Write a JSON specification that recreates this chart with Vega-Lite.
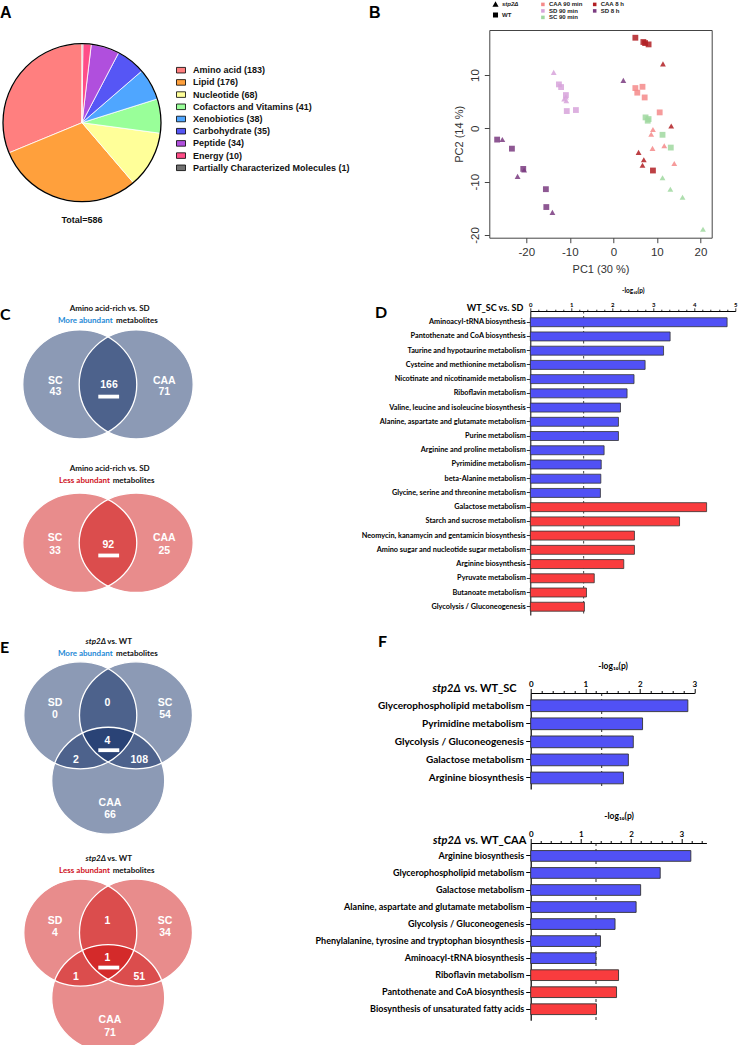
{
  "$schema": "https://vega.github.io/schema/vega-lite/v6.json",
  "background": "white",
  "padding": 0,
  "bounds": "flush",
  "spacing": 0,
  "config": {"view": {"stroke": null}, "font": "Liberation Sans", "axis": {"grid": false}},
  "resolve": {"scale": {"color": "independent", "shape": "independent"}, "legend": {"color": "independent", "shape": "independent"}},
  "vconcat": [
    {
      "hconcat": [
        {
          "width": 158,
          "height": 185.4,
          "title": {"text": "A", "anchor": "start", "frame": "group", "offset": 0, "baseline": "alphabetic", "dx": -3, "dy": 4.4, "font": "Liberation Sans", "fontSize": 16, "fontWeight": "bold", "color": "black"},
          "data": {"values": [
            {"cat": "Amino acid (183)", "n": 183, "i": 1},
            {"cat": "Lipid (176)", "n": 176, "i": 2},
            {"cat": "Nucleotide (68)", "n": 68, "i": 3},
            {"cat": "Cofactors and Vitamins (41)", "n": 41, "i": 4},
            {"cat": "Xenobiotics (38)", "n": 38, "i": 5},
            {"cat": "Carbohydrate (35)", "n": 35, "i": 6},
            {"cat": "Peptide (34)", "n": 34, "i": 7},
            {"cat": "Energy (10)", "n": 10, "i": 8},
            {"cat": "Partially Characterized Molecules (1)", "n": 1, "i": 9}
          ]},
          "layer": [
            {
              "mark": {"type": "arc", "outerRadius": 79, "stroke": "white", "strokeWidth": 0.8},
              "encoding": {
                "theta": {"field": "n", "type": "quantitative", "stack": true},
                "order": {"field": "i", "type": "quantitative", "sort": "descending"},
                "color": {
                  "field": "cat", "type": "nominal",
                  "scale": {
                    "domain": ["Amino acid (183)", "Lipid (176)", "Nucleotide (68)", "Cofactors and Vitamins (41)", "Xenobiotics (38)", "Carbohydrate (35)", "Peptide (34)", "Energy (10)", "Partially Characterized Molecules (1)"],
                    "range": ["#FF7F7F", "#FFA03C", "#FFFF99", "#99FF99", "#4FA6FF", "#5656F5", "#B04FDD", "#FF4D88", "#707070"]
                  },
                  "legend": {"orient": "none", "legendX": 173, "legendY": 35.2, "title": null, "padding": 0, "labelFont": "Liberation Sans", "labelFontSize": 9, "labelFontWeight": "bold", "labelColor": "#111", "labelLimit": 400, "symbolType": "M-1,-0.62H1V0.62H-1Z", "symbolSize": 81, "symbolStrokeColor": "black", "symbolStrokeWidth": 0.8, "symbolOpacity": 1, "rowPadding": 2.2, "labelOffset": 7}
                }
              }
            },
            {
              "data": {"values": [{"ring": "outline"}]},
              "mark": {"type": "arc", "outerRadius": 79, "theta": 0, "theta2": 6.2832, "fill": "white", "fillOpacity": 0, "stroke": "black", "strokeWidth": 1.3},
              "encoding": {}
            },
            {
              "data": {"values": [{"label": "Total=586"}]},
              "mark": {"type": "text", "radius": 97, "theta": 3.14159, "font": "Liberation Sans", "fontSize": 9, "fontWeight": "bold", "color": "#111", "baseline": "middle", "align": "center"},
              "encoding": {"text": {"field": "label", "type": "nominal"}}
            }
          ]
        },
        {
          "width": 222.4,
          "height": 207.7,
          "view": {"stroke": "#444", "strokeWidth": 1},
          "title": {"text": "B", "anchor": "start", "frame": "group", "offset": 0, "baseline": "alphabetic", "dx": -120.3, "dy": 33, "font": "Liberation Sans", "fontSize": 16, "fontWeight": "bold", "color": "black"},
          "data": {"values": [
            {"PC1": 5.06, "PC2": 17.0, "cond": "CAA 8 h", "strain": "WT"},
            {"PC1": 6.9, "PC2": 16.2, "cond": "CAA 8 h", "strain": "WT"},
            {"PC1": 7.3, "PC2": 16.0, "cond": "CAA 8 h", "strain": "WT"},
            {"PC1": 8.1, "PC2": 15.75, "cond": "CAA 8 h", "strain": "WT"},
            {"PC1": 9.1, "PC2": -7.9, "cond": "CAA 8 h", "strain": "WT"},
            {"PC1": 11.4, "PC2": 12.1, "cond": "CAA 8 h", "strain": "stp2Δ"},
            {"PC1": 13.3, "PC2": 0.45, "cond": "CAA 8 h", "strain": "stp2Δ"},
            {"PC1": 5.8, "PC2": -4.5, "cond": "CAA 8 h", "strain": "stp2Δ"},
            {"PC1": 7.0, "PC2": -5.9, "cond": "CAA 8 h", "strain": "stp2Δ"},
            {"PC1": 6.7, "PC2": -6.9, "cond": "CAA 8 h", "strain": "stp2Δ"},
            {"PC1": 5.06, "PC2": 7.56, "cond": "CAA 90 min", "strain": "WT"},
            {"PC1": 5.5, "PC2": 6.7, "cond": "CAA 90 min", "strain": "WT"},
            {"PC1": 6.7, "PC2": 7.8, "cond": "CAA 90 min", "strain": "WT"},
            {"PC1": 7.2, "PC2": 5.8, "cond": "CAA 90 min", "strain": "WT"},
            {"PC1": 10.65, "PC2": 3.0, "cond": "CAA 90 min", "strain": "WT"},
            {"PC1": 9.1, "PC2": -0.2, "cond": "CAA 90 min", "strain": "stp2Δ"},
            {"PC1": 8.7, "PC2": -1.1, "cond": "CAA 90 min", "strain": "stp2Δ"},
            {"PC1": 9.0, "PC2": -3.75, "cond": "CAA 90 min", "strain": "stp2Δ"},
            {"PC1": 11.7, "PC2": -3.25, "cond": "CAA 90 min", "strain": "stp2Δ"},
            {"PC1": 14.0, "PC2": -6.6, "cond": "CAA 90 min", "strain": "stp2Δ"},
            {"PC1": 7.4, "PC2": 2.06, "cond": "SC 90 min", "strain": "WT"},
            {"PC1": 8.1, "PC2": 1.75, "cond": "SC 90 min", "strain": "WT"},
            {"PC1": 7.9, "PC2": 1.44, "cond": "SC 90 min", "strain": "WT"},
            {"PC1": 11.3, "PC2": -1.2, "cond": "SC 90 min", "strain": "WT"},
            {"PC1": 13.2, "PC2": -3.6, "cond": "SC 90 min", "strain": "WT"},
            {"PC1": 11.3, "PC2": -9.25, "cond": "SC 90 min", "strain": "stp2Δ"},
            {"PC1": 13.1, "PC2": -11.4, "cond": "SC 90 min", "strain": "stp2Δ"},
            {"PC1": 15.9, "PC2": -12.9, "cond": "SC 90 min", "strain": "stp2Δ"},
            {"PC1": 20.6, "PC2": -18.9, "cond": "SC 90 min", "strain": "stp2Δ"},
            {"PC1": -12.5, "PC2": 8.25, "cond": "SD 90 min", "strain": "WT"},
            {"PC1": -12.0, "PC2": 7.75, "cond": "SD 90 min", "strain": "WT"},
            {"PC1": -10.9, "PC2": 6.25, "cond": "SD 90 min", "strain": "WT"},
            {"PC1": -10.7, "PC2": 3.25, "cond": "SD 90 min", "strain": "WT"},
            {"PC1": -8.6, "PC2": 3.44, "cond": "SD 90 min", "strain": "WT"},
            {"PC1": -13.7, "PC2": 10.5, "cond": "SD 90 min", "strain": "stp2Δ"},
            {"PC1": -11.3, "PC2": 5.5, "cond": "SD 90 min", "strain": "stp2Δ"},
            {"PC1": -10.9, "PC2": 5.9, "cond": "SD 90 min", "strain": "stp2Δ"},
            {"PC1": -10.8, "PC2": 5.2, "cond": "SD 90 min", "strain": "stp2Δ"},
            {"PC1": -26.7, "PC2": -2.1, "cond": "SD 8 h", "strain": "WT"},
            {"PC1": -23.3, "PC2": -3.8, "cond": "SD 8 h", "strain": "WT"},
            {"PC1": -20.7, "PC2": -7.6, "cond": "SD 8 h", "strain": "WT"},
            {"PC1": -15.5, "PC2": -11.4, "cond": "SD 8 h", "strain": "WT"},
            {"PC1": -15.4, "PC2": -14.75, "cond": "SD 8 h", "strain": "WT"},
            {"PC1": -25.5, "PC2": -2.1, "cond": "SD 8 h", "strain": "stp2Δ"},
            {"PC1": -20.5, "PC2": -7.8, "cond": "SD 8 h", "strain": "stp2Δ"},
            {"PC1": -22.0, "PC2": -9.0, "cond": "SD 8 h", "strain": "stp2Δ"},
            {"PC1": -14.0, "PC2": -15.75, "cond": "SD 8 h", "strain": "stp2Δ"},
            {"PC1": 2.3, "PC2": 9.0, "cond": "SD 8 h", "strain": "stp2Δ"}
          ]},
          "mark": {"type": "point", "filled": true, "opacity": 0.85, "size": 34},
          "encoding": {
            "x": {"field": "PC1", "type": "quantitative", "scale": {"domain": [-28.5, 22.6], "nice": false, "zero": false},
              "axis": {"values": [-20, -10, 0, 10, 20], "labelExpr": "'' + datum.value", "domain": false, "tickSize": 5, "tickColor": "#444", "labelFont": "Liberation Sans", "labelFontSize": 11.5, "labelColor": "#333", "labelPadding": 4, "title": "PC1 (30 %)", "titleFont": "Liberation Sans", "titleFontSize": 11, "titleFontWeight": "normal", "titleColor": "#333", "titlePadding": 5}},
            "y": {"field": "PC2", "type": "quantitative", "scale": {"domain": [-20.5, 18.45], "nice": false, "zero": false},
              "axis": {"values": [-20, -10, 0, 10], "labelExpr": "'' + datum.value", "domain": false, "tickSize": 5, "tickColor": "#444", "labelAngle": -90, "labelAlign": "center", "labelBaseline": "bottom", "labelFont": "Liberation Sans", "labelFontSize": 11.5, "labelColor": "#333", "labelPadding": 4, "title": "PC2 (14 %)", "titleFont": "Liberation Sans", "titleFontSize": 11, "titleFontWeight": "normal", "titleColor": "#333", "titlePadding": 5}},
            "color": {"field": "cond", "type": "nominal",
              "scale": {"domain": ["CAA 90 min", "SD 90 min", "SC 90 min", "CAA 8 h", "SD 8 h"], "range": ["#F58A8A", "#D7A3DA", "#A0D8A0", "#B21E23", "#7A3B80"]},
              "legend": {"orient": "none", "legendX": 50.6, "legendY": -28.6, "title": null, "padding": 0, "columns": 2, "columnPadding": 8.8, "rowPadding": 0.5, "symbolType": "square", "symbolSize": 12.5, "symbolOpacity": 1, "labelOffset": 3, "labelFont": "Liberation Sans", "labelFontSize": 6, "labelFontWeight": "bold", "labelColor": "#222"}},
            "shape": {"field": "strain", "type": "nominal",
              "scale": {"domain": ["stp2Δ", "WT"], "range": ["triangle-up", "square"]},
              "legend": {"orient": "none", "legendX": 3.2, "legendY": -28.6, "title": null, "padding": 0, "rowPadding": 0.5, "symbolSize": 12.5, "symbolFillColor": "black", "symbolStrokeColor": "black", "symbolOpacity": 1, "labelOffset": 3.5, "labelFont": "Liberation Sans", "labelFontSize": 6, "labelFontWeight": "bold", "labelColor": "#222",
                "encode": {"labels": {"update": {"fontStyle": {"signal": "datum.value === 'stp2Δ' ? 'italic' : 'normal'"}}}}}}
          }
        }
      ],
      "spacing": 328.3,
      "bounds": "flush",
      "resolve": {"scale": {"color": "independent", "shape": "independent"}, "legend": {"color": "independent", "shape": "independent"}}
    },
    {
      "width": 1,
      "height": 281,
      "data": {"values": []},
      "mark": "rect"
    },
    {
      "hconcat": [
        {
          "width": 200,
          "height": 300,
          "title": {"text": "C", "anchor": "start", "frame": "group", "offset": 0, "baseline": "alphabetic", "dx": -3, "dy": 31.5, "font": "Lato", "fontSize": 16, "fontWeight": "bold", "color": "black"},
          "encoding": {
            "x": {"field": "u", "type": "quantitative", "scale": {"domain": [-1.842, 1.667], "nice": false, "zero": false}, "axis": null},
            "y": {"field": "v", "type": "quantitative", "scale": {"domain": [-3.979, 1.2895], "nice": false, "zero": false}, "axis": null}
          },
          "layer": [
            {
              "data": {"values": [{"set": "SC", "u": -0.495, "v": 0}, {"set": "CAA", "u": 0.495, "v": 0}]},
              "mark": {"type": "point", "shape": "M -1 0 A 1 0.956 0 1 1 1 0 A 1 0.956 0 1 1 -1 0 Z", "size": 12996, "filled": true, "color": "#001F5B", "opacity": 1, "fillOpacity": 0.45, "strokeOpacity": 0}
            },
            {
              "data": {"values": [{"set": "SC", "u": -0.495, "v": -2.781}, {"set": "CAA", "u": 0.495, "v": -2.781}]},
              "mark": {"type": "point", "shape": "M -1 0 A 1 0.872 0 1 1 1 0 A 1 0.872 0 1 1 -1 0 Z", "size": 12996, "filled": true, "color": "#CC0000", "opacity": 1, "fillOpacity": 0.45, "strokeOpacity": 0}
            },
            {
              "data": {"values": [{"set": "SC", "u": -0.495, "v": 0}, {"set": "CAA", "u": 0.495, "v": 0}]},
              "mark": {"type": "point", "shape": "M -1 0 A 1 0.956 0 1 1 1 0 A 1 0.956 0 1 1 -1 0 Z", "size": 12996, "filled": false, "color": "white", "opacity": 1, "strokeWidth": 1.3}
            },
            {
              "data": {"values": [{"set": "SC", "u": -0.495, "v": -2.781}, {"set": "CAA", "u": 0.495, "v": -2.781}]},
              "mark": {"type": "point", "shape": "M -1 0 A 1 0.872 0 1 1 1 0 A 1 0.872 0 1 1 -1 0 Z", "size": 12996, "filled": false, "color": "white", "opacity": 1, "strokeWidth": 1.3}
            },
            {
              "data": {"values": [{"u": -0.17, "u2": 0.195, "v": -0.214}, {"u": -0.17, "u2": 0.195, "v": -3.004}]},
              "mark": {"type": "rule", "color": "white", "strokeWidth": 3.8},
              "encoding": {"x2": {"field": "u2"}}
            },
            {
              "data": {"values": [
                {"t": "SC", "u": -0.923, "v": 0.067}, {"t": "43", "u": -0.923, "v": -0.139},
                {"t": "CAA", "u": 0.988, "v": 0.067}, {"t": "71", "u": 0.988, "v": -0.139},
                {"t": "166", "u": 0.018, "v": -0.009},
                {"t": "SC", "u": -0.93, "v": -2.70}, {"t": "33", "u": -0.93, "v": -2.933},
                {"t": "CAA", "u": 0.988, "v": -2.70}, {"t": "25", "u": 0.988, "v": -2.933},
                {"t": "92", "u": 0.005, "v": -2.816}
              ]},
              "mark": {"type": "text", "font": "Liberation Sans", "fontWeight": "bold", "fontSize": 10.5, "color": "white", "align": "center", "baseline": "middle"},
              "encoding": {"text": {"field": "t", "type": "nominal"}}
            },
            {
              "data": {"values": [{"t": "Amino acid-rich vs. SD", "u": 0.03, "v": 1.325}, {"t": "Amino acid-rich vs. SD", "u": 0.03, "v": -1.482}]},
              "mark": {"type": "text", "font": "Lato", "fontWeight": "bold", "fontSize": 8, "color": "#111", "align": "center", "baseline": "middle"},
              "encoding": {"text": {"field": "t", "type": "nominal"}}
            },
            {
              "data": {"values": [{"t": "More abundant", "u": 0.082, "v": 1.119}, {"t": "Less abundant", "u": 0.035, "v": -1.688}]},
              "mark": {"type": "text", "font": "Lato", "fontWeight": "bold", "fontSize": 8, "align": "right", "baseline": "middle"},
              "encoding": {"text": {"field": "t", "type": "nominal"}, "color": {"condition": {"test": "datum.t === 'More abundant'", "value": "#1F8AD6"}, "value": "#D0121B"}}
            },
            {
              "data": {"values": [{"t": "metabolites", "u": 0.14, "v": 1.119}, {"t": "metabolites", "u": 0.082, "v": -1.688}]},
              "mark": {"type": "text", "font": "Lato", "fontWeight": "bold", "fontSize": 8, "color": "#111", "align": "left", "baseline": "middle"},
              "encoding": {"text": {"field": "t", "type": "nominal"}}
            }
          ]
        },
        {
          "width": 205,
          "height": 304,
          "title": {"text": "D", "anchor": "start", "frame": "group", "offset": 0, "baseline": "alphabetic", "dx": -155.3, "dy": 46.5, "font": "Lato", "fontSize": 16, "fontWeight": "bold", "color": "black"},
          "data": {"values": [
            {"pathway": "Aminoacyl-tRNA biosynthesis", "p": 4.80, "dir": "up"},
            {"pathway": "Pantothenate and CoA biosynthesis", "p": 3.41, "dir": "up"},
            {"pathway": "Taurine and hypotaurine metabolism", "p": 3.25, "dir": "up"},
            {"pathway": "Cysteine and methionine metabolism", "p": 2.80, "dir": "up"},
            {"pathway": "Nicotinate and nicotinamide metabolism", "p": 2.53, "dir": "up"},
            {"pathway": "Riboflavin metabolism", "p": 2.36, "dir": "up"},
            {"pathway": "Valine, leucine and isoleucine biosynthesis", "p": 2.20, "dir": "up"},
            {"pathway": "Alanine, aspartate and glutamate metabolism", "p": 2.15, "dir": "up"},
            {"pathway": "Purine metabolism", "p": 2.15, "dir": "up"},
            {"pathway": "Arginine and proline metabolism", "p": 1.80, "dir": "up"},
            {"pathway": "Pyrimidine metabolism", "p": 1.73, "dir": "up"},
            {"pathway": "beta-Alanine metabolism", "p": 1.72, "dir": "up"},
            {"pathway": "Glycine, serine and threonine metabolism", "p": 1.71, "dir": "up"},
            {"pathway": "Galactose metabolism", "p": 4.30, "dir": "down"},
            {"pathway": "Starch and sucrose metabolism", "p": 3.64, "dir": "down"},
            {"pathway": "Neomycin, kanamycin and gentamicin biosynthesis", "p": 2.54, "dir": "down"},
            {"pathway": "Amino sugar and nucleotide sugar metabolism", "p": 2.54, "dir": "down"},
            {"pathway": "Arginine biosynthesis", "p": 2.28, "dir": "down"},
            {"pathway": "Pyruvate metabolism", "p": 1.56, "dir": "down"},
            {"pathway": "Butanoate metabolism", "p": 1.37, "dir": "down"},
            {"pathway": "Glycolysis / Gluconeogenesis", "p": 1.32, "dir": "down"}
          ]},
          "resolve": {"axis": {"x": "independent"}},
          "layer": [
            {
              "data": {"values": [{"cutoff": 1.301}]},
              "mark": {"type": "rule", "strokeDash": [2.5, 2.5], "color": "#111", "strokeWidth": 0.8},
              "encoding": {"x": {"field": "cutoff", "type": "quantitative",
                "axis": {"orient": "top", "values": [0.2, 0.4, 0.6, 0.8, 1.2, 1.4, 1.6, 1.8, 2.2, 2.4, 2.6, 2.8, 3.2, 3.4, 3.6, 3.8, 4.2, 4.4, 4.6, 4.8], "labels": false, "domain": false, "grid": false, "title": null, "tickSize": 1.8, "tickColor": "black", "tickWidth": 0.8}}}
            },
            {
              "mark": {"type": "bar", "stroke": "#333", "strokeWidth": 0.8},
              "encoding": {
                "y": {"field": "pathway", "type": "nominal", "sort": null, "scale": {"paddingInner": 0.37, "paddingOuter": 0.37, "align": 0.64},
                  "axis": {"title": null, "labelFont": "Lato", "labelFontWeight": "bold", "labelFontSize": 7.3, "labelColor": "black", "labelPadding": 1, "labelLimit": 400, "tickSize": 4, "tickColor": "black", "tickWidth": 0.8, "domainColor": "black", "domainWidth": 1}},
                "x": {"field": "p", "type": "quantitative", "scale": {"domain": [0, 5], "nice": false},
                  "axis": {"orient": "top", "values": [0, 1, 2, 3, 4, 5], "format": "d", "tickSize": 3.2,
                    "tickColor": "black", "tickWidth": 0.8, "domainColor": "black", "domainWidth": 1,
                    "labelFont": "Lato", "labelFontWeight": "bold", "labelFontSize": 6, "labelColor": "black", "labelPadding": 0.5, "labelOverlap": false, "labelFlush": false, "labelBound": false,
                    "title": "-log₁₀(p)", "titleFont": "Lato", "titleFontWeight": "bold", "titleFontSize": 6.5, "titleColor": "black", "titlePadding": 8}},
                "color": {"condition": {"test": "datum.dir === 'up'", "value": "#5151F5"}, "value": "#F93C3E"}
              }
            },
            {
              "data": {"values": [{"lab": "WT_SC vs. SD"}]},
              "mark": {"type": "text", "align": "right", "baseline": "alphabetic", "dx": -7, "dy": -11.5, "font": "Lato", "fontWeight": "bold", "fontSize": 9, "color": "black"},
              "encoding": {"x": {"datum": 0, "type": "quantitative", "axis": null}, "y": {"datum": "Aminoacyl-tRNA biosynthesis", "type": "nominal"}, "text": {"field": "lab", "type": "nominal"}}
            }
          ]
        }
      ],
      "spacing": 327.3,
      "bounds": "flush",
      "resolve": {"scale": {"color": "independent", "shape": "independent"}, "legend": {"color": "independent", "shape": "independent"}}
    },
    {
      "width": 1,
      "height": 381.4,
      "data": {"values": []},
      "mark": "rect"
    },
    {
      "hconcat": [
        {
          "width": 200,
          "height": 330,
          "title": {"text": "E", "anchor": "start", "frame": "group", "offset": 0, "baseline": "alphabetic", "dx": -3, "dy": 31.5, "font": "Lato", "fontSize": 16, "fontWeight": "bold", "color": "black"},
          "encoding": {
            "x": {"field": "u", "type": "quantitative", "scale": {"domain": [-1.842, 1.667], "nice": false, "zero": false}, "axis": null},
            "y": {"field": "v", "type": "quantitative", "scale": {"domain": [-5.339, 0.3877], "nice": false, "zero": false}, "axis": null}
          },
          "layer": [
            {
              "data": {"values": [{"set": "SD", "u": -0.486, "v": 0}, {"set": "SC", "u": 0.491, "v": 0}, {"set": "CAA", "u": 0.004, "v": -1.135}]},
              "mark": {"type": "point", "shape": "M -1 0 A 1 0.947 0 1 1 1 0 A 1 0.947 0 1 1 -1 0 Z", "size": 12769, "filled": true, "color": "#001F5B", "opacity": 1, "fillOpacity": 0.45, "strokeOpacity": 0}
            },
            {
              "data": {"values": [{"set": "SD", "u": -0.486, "v": -3.772}, {"set": "SC", "u": 0.491, "v": -3.772}, {"set": "CAA", "u": 0.004, "v": -4.907}]},
              "mark": {"type": "point", "shape": "M -1 0 A 1 0.947 0 1 1 1 0 A 1 0.947 0 1 1 -1 0 Z", "size": 12769, "filled": true, "color": "#CC0000", "opacity": 1, "fillOpacity": 0.45, "strokeOpacity": 0}
            },
            {
              "data": {"values": [
                {"set": "SD", "u": -0.486, "v": 0}, {"set": "SC", "u": 0.491, "v": 0}, {"set": "CAA", "u": 0.004, "v": -1.135},
                {"set": "SD", "u": -0.486, "v": -3.772}, {"set": "SC", "u": 0.491, "v": -3.772}, {"set": "CAA", "u": 0.004, "v": -4.907}
              ]},
              "mark": {"type": "point", "shape": "M -1 0 A 1 0.947 0 1 1 1 0 A 1 0.947 0 1 1 -1 0 Z", "size": 12769, "filled": false, "color": "white", "opacity": 1, "strokeWidth": 1.3}
            },
            {
              "data": {"values": [{"u": -0.17, "u2": 0.198, "v": -0.605}, {"u": -0.17, "u2": 0.198, "v": -4.377}]},
              "mark": {"type": "rule", "color": "white", "strokeWidth": 3.8},
              "encoding": {"x2": {"field": "u2"}}
            },
            {
              "data": {"values": [
                {"t": "SD", "u": -0.93, "v": 0.207}, {"t": "0", "u": -0.93, "v": 0.002},
                {"t": "0", "u": -0.012, "v": 0.207},
                {"t": "SC", "u": 1.0, "v": 0.207}, {"t": "54", "u": 1.0, "v": 0.002},
                {"t": "4", "u": -0.012, "v": -0.447},
                {"t": "2", "u": -0.561, "v": -0.770}, {"t": "108", "u": 0.549, "v": -0.770},
                {"t": "CAA", "u": 0.035, "v": -1.518}, {"t": "66", "u": 0.035, "v": -1.735},
                {"t": "SD", "u": -0.93, "v": -3.565}, {"t": "4", "u": -0.93, "v": -3.770},
                {"t": "1", "u": -0.012, "v": -3.565},
                {"t": "SC", "u": 1.0, "v": -3.565}, {"t": "34", "u": 1.0, "v": -3.770},
                {"t": "1", "u": -0.012, "v": -4.219},
                {"t": "1", "u": -0.561, "v": -4.542}, {"t": "51", "u": 0.549, "v": -4.542},
                {"t": "CAA", "u": 0.035, "v": -5.290}, {"t": "71", "u": 0.035, "v": -5.507}
              ]},
              "mark": {"type": "text", "font": "Liberation Sans", "fontWeight": "bold", "fontSize": 10.5, "color": "white", "align": "center", "baseline": "middle"},
              "encoding": {"text": {"field": "t", "type": "nominal"}}
            },
            {
              "data": {"values": [{"t": "stp2Δ", "u": -0.035, "v": 1.277}, {"t": "stp2Δ", "u": -0.035, "v": -2.495}]},
              "mark": {"type": "text", "font": "Lato", "fontWeight": "bold", "fontStyle": "italic", "fontSize": 8, "color": "#111", "align": "right", "baseline": "middle"},
              "encoding": {"text": {"field": "t", "type": "nominal"}}
            },
            {
              "data": {"values": [{"t": "vs. WT", "u": -0.012, "v": 1.277}, {"t": "vs. WT", "u": -0.012, "v": -2.495}]},
              "mark": {"type": "text", "font": "Lato", "fontWeight": "bold", "fontSize": 8, "color": "#111", "align": "left", "baseline": "middle"},
              "encoding": {"text": {"field": "t", "type": "nominal"}}
            },
            {
              "data": {"values": [{"t": "More abundant", "u": 0.082, "v": 1.067}, {"t": "Less abundant", "u": 0.035, "v": -2.705}]},
              "mark": {"type": "text", "font": "Lato", "fontWeight": "bold", "fontSize": 8, "align": "right", "baseline": "middle"},
              "encoding": {"text": {"field": "t", "type": "nominal"}, "color": {"condition": {"test": "datum.t === 'More abundant'", "value": "#1F8AD6"}, "value": "#D0121B"}}
            },
            {
              "data": {"values": [{"t": "metabolites", "u": 0.14, "v": 1.067}, {"t": "metabolites", "u": 0.082, "v": -2.705}]},
              "mark": {"type": "text", "font": "Lato", "fontWeight": "bold", "fontSize": 8, "color": "#111", "align": "left", "baseline": "middle"},
              "encoding": {"text": {"field": "t", "type": "nominal"}}
            }
          ]
        },
        {
          "title": {"text": "F", "anchor": "start", "frame": "group", "offset": 0, "baseline": "alphabetic", "dx": -152.7, "dy": 2.4, "font": "Lato", "fontSize": 16, "fontWeight": "bold", "color": "black"},
          "vconcat": [
            {
              "width": 163.7,
              "height": 96,
              "data": {"values": [
                {"pathway": "Glycerophospholipid metabolism", "p": 2.88, "dir": "up"},
                {"pathway": "Pyrimidine metabolism", "p": 2.05, "dir": "up"},
                {"pathway": "Glycolysis / Gluconeogenesis", "p": 1.88, "dir": "up"},
                {"pathway": "Galactose metabolism", "p": 1.79, "dir": "up"},
                {"pathway": "Arginine biosynthesis", "p": 1.70, "dir": "up"}
              ]},
              "resolve": {"axis": {"x": "independent"}},
              "layer": [
                {
                  "data": {"values": [{"cutoff": 1.301}]},
                  "mark": {"type": "rule", "strokeDash": [3, 3], "color": "#111", "strokeWidth": 0.9},
                  "encoding": {"x": {"field": "cutoff", "type": "quantitative",
                    "axis": {"orient": "top", "values": [0.2, 0.4, 0.6, 0.8, 1.2, 1.4, 1.6, 1.8, 2.2, 2.4, 2.6, 2.8], "labels": false, "domain": false, "grid": false, "title": null, "tickSize": 2.5, "tickColor": "black", "tickWidth": 1}}}
                },
                {
                  "mark": {"type": "bar", "stroke": "#333", "strokeWidth": 0.9},
                  "encoding": {
                    "y": {"field": "pathway", "type": "nominal", "sort": null, "scale": {"paddingInner": 0.35, "paddingOuter": 0.334, "align": 0.57},
                      "axis": {"title": null, "labelFont": "Lato", "labelFontWeight": "bold", "labelFontSize": 10, "labelColor": "black", "labelPadding": 2.3, "labelLimit": 400, "tickSize": 5, "tickColor": "black", "tickWidth": 1, "domainColor": "black", "domainWidth": 1.2}},
                    "x": {"field": "p", "type": "quantitative", "scale": {"domain": [0, 3], "nice": false},
                      "axis": {"orient": "top", "values": [0, 1, 2, 3], "format": "d", "tickSize": 4.5,
                        "tickColor": "black", "tickWidth": 1, "domainColor": "black", "domainWidth": 1.2,
                        "labelFont": "Lato", "labelFontWeight": "bold", "labelFontSize": 8, "labelColor": "black", "labelPadding": 0.5, "labelOverlap": false, "labelFlush": false, "labelBound": false,
                        "title": "-log₁₀(p)", "titleFont": "Lato", "titleFontWeight": "bold", "titleFontSize": 8.5, "titleColor": "black", "titlePadding": 10}},
                    "color": {"condition": {"test": "datum.dir === 'up'", "value": "#5151F5"}, "value": "#F93C3E"}
                  }
                },
                {
                  "data": {"values": [{"lab": "stp2Δ"}]},
                  "mark": {"type": "text", "align": "right", "baseline": "alphabetic", "dx": -70, "dy": -13.5, "font": "Lato", "fontWeight": "bold", "fontStyle": "italic", "fontSize": 11, "color": "black"},
                  "encoding": {"x": {"datum": 0, "type": "quantitative", "axis": null}, "y": {"datum": "Glycerophospholipid metabolism", "type": "nominal"}, "text": {"field": "lab", "type": "nominal"}}
                },
                {
                  "data": {"values": [{"lab": "vs. WT_SC"}]},
                  "mark": {"type": "text", "align": "left", "baseline": "alphabetic", "dx": -66.5, "dy": -13.5, "font": "Lato", "fontWeight": "bold", "fontSize": 11, "color": "black"},
                  "encoding": {"x": {"datum": 0, "type": "quantitative", "axis": null}, "y": {"datum": "Glycerophospholipid metabolism", "type": "nominal"}, "text": {"field": "lab", "type": "nominal"}}
                }
              ]
            },
            {
              "width": 175.7,
              "height": 177.3,
              "data": {"values": [
                {"pathway": "Arginine biosynthesis", "p": 3.19, "dir": "up"},
                {"pathway": "Glycerophospholipid metabolism", "p": 2.58, "dir": "up"},
                {"pathway": "Galactose metabolism", "p": 2.19, "dir": "up"},
                {"pathway": "Alanine, aspartate and glutamate metabolism", "p": 2.10, "dir": "up"},
                {"pathway": "Glycolysis / Gluconeogenesis", "p": 1.68, "dir": "up"},
                {"pathway": "Phenylalanine, tyrosine and tryptophan biosynthesis", "p": 1.39, "dir": "up"},
                {"pathway": "Aminoacyl-tRNA biosynthesis", "p": 1.30, "dir": "up"},
                {"pathway": "Riboflavin metabolism", "p": 1.75, "dir": "down"},
                {"pathway": "Pantothenate and CoA biosynthesis", "p": 1.71, "dir": "down"},
                {"pathway": "Biosynthesis of unsaturated fatty acids", "p": 1.31, "dir": "down"}
              ]},
              "resolve": {"axis": {"x": "independent"}},
              "layer": [
                {
                  "data": {"values": [{"cutoff": 1.301}]},
                  "mark": {"type": "rule", "strokeDash": [3, 3], "color": "#111", "strokeWidth": 0.9},
                  "encoding": {"x": {"field": "cutoff", "type": "quantitative",
                    "axis": {"orient": "top", "values": [0.2, 0.4, 0.6, 0.8, 1.2, 1.4, 1.6, 1.8, 2.2, 2.4, 2.6, 2.8, 3.2, 3.4], "labels": false, "domain": false, "grid": false, "title": null, "tickSize": 2.5, "tickColor": "black", "tickWidth": 1}}}
                },
                {
                  "mark": {"type": "bar", "stroke": "#333", "strokeWidth": 0.9},
                  "encoding": {
                    "y": {"field": "pathway", "type": "nominal", "sort": null, "scale": {"paddingInner": 0.37, "paddingOuter": 0.39, "align": 0.57},
                      "axis": {"title": null, "labelFont": "Lato", "labelFontWeight": "bold", "labelFontSize": 9, "labelColor": "black", "labelPadding": 2, "labelLimit": 400, "tickSize": 5, "tickColor": "black", "tickWidth": 1, "domainColor": "black", "domainWidth": 1.2}},
                    "x": {"field": "p", "type": "quantitative", "scale": {"domain": [0, 3.5], "nice": false},
                      "axis": {"orient": "top", "values": [0, 1, 2, 3], "format": "d", "tickSize": 4.5,
                        "tickColor": "black", "tickWidth": 1, "domainColor": "black", "domainWidth": 1.2,
                        "labelFont": "Lato", "labelFontWeight": "bold", "labelFontSize": 8, "labelColor": "black", "labelPadding": 0.5, "labelOverlap": false, "labelFlush": false, "labelBound": false,
                        "title": "-log₁₀(p)", "titleFont": "Lato", "titleFontWeight": "bold", "titleFontSize": 8.5, "titleColor": "black", "titlePadding": 10}},
                    "color": {"condition": {"test": "datum.dir === 'up'", "value": "#5151F5"}, "value": "#F93C3E"}
                  }
                },
                {
                  "data": {"values": [{"lab": "stp2Δ"}]},
                  "mark": {"type": "text", "align": "right", "baseline": "alphabetic", "dx": -69.5, "dy": -12, "font": "Lato", "fontWeight": "bold", "fontStyle": "italic", "fontSize": 11, "color": "black"},
                  "encoding": {"x": {"datum": 0, "type": "quantitative", "axis": null}, "y": {"datum": "Arginine biosynthesis", "type": "nominal"}, "text": {"field": "lab", "type": "nominal"}}
                },
                {
                  "data": {"values": [{"lab": "vs. WT_CAA"}]},
                  "mark": {"type": "text", "align": "left", "baseline": "alphabetic", "dx": -66, "dy": -12, "font": "Lato", "fontWeight": "bold", "fontSize": 11, "color": "black"},
                  "encoding": {"x": {"datum": 0, "type": "quantitative", "axis": null}, "y": {"datum": "Arginine biosynthesis", "type": "nominal"}, "text": {"field": "lab", "type": "nominal"}}
                }
              ]
            }
          ],
          "spacing": 54,
          "bounds": "flush"
        }
      ],
      "spacing": 327.7,
      "bounds": "flush",
      "resolve": {"scale": {"color": "independent", "shape": "independent"}, "legend": {"color": "independent", "shape": "independent"}}
    }
  ]
}
